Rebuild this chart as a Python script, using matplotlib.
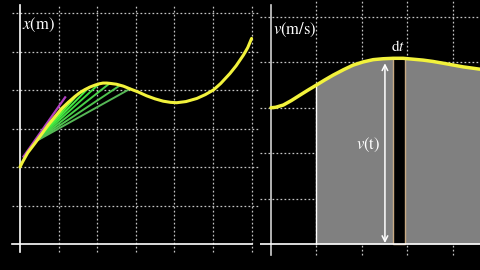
import matplotlib
matplotlib.use("Agg")
import matplotlib.pyplot as plt
from matplotlib.patches import Rectangle

plt.rcParams["mathtext.fontset"] = "stix"
plt.rcParams["font.family"] = ["Liberation Serif", "DejaVu Serif"]

# ---------------------------------------------------------
# Data
# ---------------------------------------------------------
# position curve x(t), left panel
pos_t = [0.0, 0.06, 0.2, 0.39, 0.55, 0.73, 0.9, 1.08, 1.25, 1.42, 1.55, 1.68,
         1.82, 1.95, 2.05, 2.15, 2.25, 2.35, 2.5, 2.68, 2.85, 3.06, 3.28, 3.5,
         3.71, 3.9, 4.06, 4.3, 4.58, 4.8, 5.01, 5.2, 5.44, 5.6, 5.79, 5.9, 6.0]
pos_x = [2.0, 2.12, 2.37, 2.62, 2.84, 3.09, 3.3, 3.52, 3.68, 3.83, 3.93, 4.01,
         4.08, 4.13, 4.16, 4.18, 4.18, 4.17, 4.15, 4.1, 4.03, 3.95, 3.85, 3.77,
         3.71, 3.68, 3.67, 3.7, 3.78, 3.88, 4.0, 4.17, 4.43, 4.63, 4.91, 5.1, 5.34]

# secant fan from one point on the curve
secant_start = (0.43, 2.68)
secant_end_t = [1.25, 1.52, 1.78, 2.05, 2.32, 2.59, 2.85]
secant_end_x = [3.68, 3.91, 4.06, 4.16, 4.17, 4.12, 4.03]
secant_colors = ["#8cff30", "#60f83c", "#44ec44", "#40dc40", "#48d048", "#4ec44e", "#56b856"]

# tangent line (magenta)
tangent_t = [0.09, 1.17]
tangent_x = [2.27, 3.81]

# velocity curve v(t), right panel
vel_t = [0.0, 0.1, 0.27, 0.45, 0.64, 0.8, 1.0, 1.18, 1.37, 1.6, 1.81, 2.03,
         2.25, 2.47, 2.69, 2.91, 3.13, 3.35, 3.57, 3.8, 4.02, 4.24, 4.46, 4.6]
vel_v = [3.0, 3.01, 3.06, 3.16, 3.28, 3.38, 3.5, 3.61, 3.72, 3.84, 3.94, 4.01,
         4.06, 4.08, 4.09, 4.09, 4.07, 4.05, 4.02, 3.98, 3.94, 3.9, 3.87, 3.85]

fill_from = 1.0
strip_t = (2.69, 2.95)
strip_v = 4.09
arrow_t = 2.51
arrow_v = 3.98

grid_col = "#c4c4c4"
dots = (0, (1.4, 1.8))

fig = plt.figure(figsize=(4.8, 2.7), dpi=100, facecolor="black")

# ---------------------------------------------------------
# Left panel: x(t)
# ---------------------------------------------------------
ax1 = fig.add_axes([0, 0, 260 / 480, 1])
ax1.set_facecolor("black")
ax1.set_xlim(-0.518, 6.218)
ax1.set_ylim(-0.675, 6.338)
ax1.axis("off")

for k in range(1, 7):
    ax1.plot([k, k], [-0.2, 6.2], color=grid_col, lw=0.9, ls=dots, zorder=1)
    ax1.plot([-0.2, 6.218], [k, k], color=grid_col, lw=0.9, ls=dots, zorder=1)
ax1.plot([0, 0], [-0.2, 6.2], color="white", lw=1.2, zorder=2)
ax1.plot([-0.2, 6.0], [0, 0], color="white", lw=1.2, zorder=2)

for te, xe, c in zip(secant_end_t, secant_end_x, secant_colors):
    ax1.plot([secant_start[0], te], [secant_start[1], xe], color=c, lw=1.4, zorder=3)
ax1.plot(tangent_t, tangent_x, color="#b040c0", lw=1.6, zorder=3)
ax1.plot(pos_t, pos_x, color="#f2f23c", lw=2.2, zorder=4,
         solid_capstyle="round", solid_joinstyle="round")

ax1.text(0.05, 5.69, r"$x\left(\mathrm{m}\right)$", color="white", fontsize=12,
         ha="left", va="center", zorder=5)

# ---------------------------------------------------------
# Right panel: v(t)
# ---------------------------------------------------------
ax2 = fig.add_axes([260 / 480, 0, 220 / 480, 1])
ax2.set_facecolor("black")
ax2.set_xlim(-0.242, 4.604)
ax2.set_ylim(-0.573, 5.374)
ax2.axis("off")

for k in range(1, 5):
    ax2.plot([k, k], [-0.24, 5.4], color=grid_col, lw=0.9, ls=dots, zorder=1)
for k in range(1, 6):
    ax2.plot([-0.242, 4.604], [k, k], color=grid_col, lw=0.9, ls=dots, zorder=1)

ft = [t for t in vel_t if t >= fill_from]
fv = [v for t, v in zip(vel_t, vel_v) if t >= fill_from]
ax2.fill_between(ft, 0, fv, color="#808080", lw=0, zorder=2)
ax2.plot([fill_from, fill_from], [0, fv[0]], color="white", lw=1.0, zorder=3)

ax2.add_patch(Rectangle((strip_t[0], 0), strip_t[1] - strip_t[0], strip_v,
                        facecolor="black", edgecolor="#c8aa84", lw=1.0, zorder=3))

ax2.plot([0, 0], [-0.24, 5.26], color="#d0d0d0", lw=1.2, zorder=4)
ax2.plot([-0.242, 4.604], [0, 0], color="white", lw=1.2, zorder=4)

ax2.annotate("", xy=(arrow_t, arrow_v), xytext=(arrow_t, 0.02),
             arrowprops=dict(arrowstyle="<->", color="white", lw=1.1,
                             mutation_scale=10, shrinkA=0, shrinkB=0), zorder=5)

ax2.plot(vel_t, vel_v, color="#f2f23c", lw=2.5, zorder=5,
         solid_capstyle="round", solid_joinstyle="round")

ax2.text(0.04, 4.71, r"$v\left(\mathrm{m/s}\right)$", color="white", fontsize=12,
         ha="left", va="center", zorder=6)
ax2.text(2.14, 2.18, r"$v\left(\mathrm{t}\right)$", color="white", fontsize=12,
         ha="center", va="center", zorder=6)
ax2.text(2.8, 4.36, r"$\mathrm{d}t$", color="white", fontsize=11,
         ha="center", va="center", zorder=6)

fig.savefig("out.png", dpi=100, facecolor="black")
